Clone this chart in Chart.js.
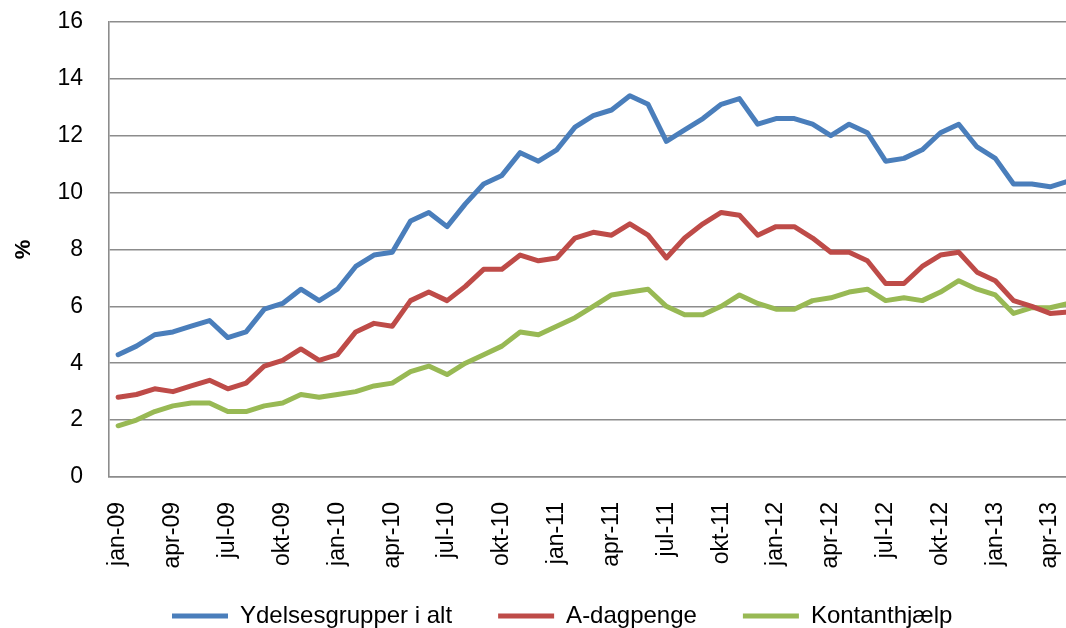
<!DOCTYPE html>
<html>
<head>
<meta charset="utf-8">
<script src="https://cdn.jsdelivr.net/npm/chart.js@4.4.1/dist/chart.umd.min.js"></script>
<style>
    html, body { margin: 0; padding: 0; overflow: hidden; background: #fff; }
    /* canvas is a bit bigger than the window: the original picture is cropped on the right */
    #wrap { position: absolute; left: 0; top: -18px; width: 1121px; height: 675px; }
</style>
</head>
<body>
<div id="wrap"><canvas id="chart" width="1121" height="675"></canvas></div>
<script>
const months = [
    "jan-09", "feb-09", "mar-09", "apr-09", "maj-09", "jun-09", "jul-09", "aug-09", "sep-09", "okt-09", "nov-09", "dec-09",
    "jan-10", "feb-10", "mar-10", "apr-10", "maj-10", "jun-10", "jul-10", "aug-10", "sep-10", "okt-10", "nov-10", "dec-10",
    "jan-11", "feb-11", "mar-11", "apr-11", "maj-11", "jun-11", "jul-11", "aug-11", "sep-11", "okt-11", "nov-11", "dec-11",
    "jan-12", "feb-12", "mar-12", "apr-12", "maj-12", "jun-12", "jul-12", "aug-12", "sep-12", "okt-12", "nov-12", "dec-12",
    "jan-13", "feb-13", "mar-13", "apr-13", "maj-13"
];

const ydelsesgrupper = [
    4.3, 4.6, 5.0, 5.1, 5.3, 5.5, 4.9, 5.1, 5.9, 6.1, 6.6, 6.2,
    6.6, 7.4, 7.8, 7.9, 9.0, 9.3, 8.8, 9.6, 10.3, 10.6, 11.4, 11.1,
    11.5, 12.3, 12.7, 12.9, 13.4, 13.1, 11.8, 12.2, 12.6, 13.1, 13.3, 12.4,
    12.6, 12.6, 12.4, 12.0, 12.4, 12.1, 11.1, 11.2, 11.5, 12.1, 12.4, 11.6,
    11.2, 10.3, 10.3, 10.2, 10.4
];
const aDagpenge = [
    2.8, 2.9, 3.1, 3.0, 3.2, 3.4, 3.1, 3.3, 3.9, 4.1, 4.5, 4.1,
    4.3, 5.1, 5.4, 5.3, 6.2, 6.5, 6.2, 6.7, 7.3, 7.3, 7.8, 7.6,
    7.7, 8.4, 8.6, 8.5, 8.9, 8.5, 7.7, 8.4, 8.9, 9.3, 9.2, 8.5,
    8.8, 8.8, 8.4, 7.9, 7.9, 7.6, 6.8, 6.8, 7.4, 7.8, 7.9, 7.2,
    6.9, 6.2, 6.0, 5.75, 5.8
];
const kontanthjaelp = [
    1.8, 2.0, 2.3, 2.5, 2.6, 2.6, 2.3, 2.3, 2.5, 2.6, 2.9, 2.8,
    2.9, 3.0, 3.2, 3.3, 3.7, 3.9, 3.6, 4.0, 4.3, 4.6, 5.1, 5.0,
    5.3, 5.6, 6.0, 6.4, 6.5, 6.6, 6.0, 5.7, 5.7, 6.0, 6.4, 6.1,
    5.9, 5.9, 6.2, 6.3, 6.5, 6.6, 6.2, 6.3, 6.2, 6.5, 6.9, 6.6,
    6.4, 5.75, 5.95, 5.95, 6.1
];

const yMin = 0;
const yMax = 16;
const yStep = 2;
const labelEvery = 3;

const gridGrey = "#8c8c8c";
const tickFont = { family: "'Liberation Sans', Arial, sans-serif", size: 23 };

function line(label, data, color) {
    return {
        label: label,
        data: data,
        borderColor: color,
        backgroundColor: color,
        borderWidth: 5,
        borderJoinStyle: "round",
        borderCapStyle: "round",
        pointRadius: 0,
        tension: 0,
        fill: false
    };
}

// put the legend row where it sits in the original
const legendPlace = {
    id: "legendPlace",
    afterLayout(chart) {
        const lg = chart.legend;
        const pad = lg.options.labels.padding;
        lg.left = 172 - pad;
        lg.right = 1121;
        lg.top = 634 - pad - 12;
        lg.bottom = lg.top + 80;
    }
};

new Chart(document.getElementById("chart"), {
    type: "line",
    data: {
        labels: months,
        datasets: [
            line("Ydelsesgrupper i alt", ydelsesgrupper, "#4a7ebb"),
            line("A-dagpenge", aDagpenge, "#be4b48"),
            line("Kontanthjælp", kontanthjaelp, "#98b954")
        ]
    },
    options: {
        responsive: false,
        animation: false,
        layout: { padding: 0 },
        plugins: {
            tooltip: { enabled: false },
            legend: {
                position: "bottom",
                align: "start",
                labels: {
                    usePointStyle: true,
                    pointStyle: "line",
                    pointStyleWidth: 56,
                    boxHeight: 5,
                    padding: 46,
                    color: "#000",
                    font: { family: "'Liberation Sans', Arial, sans-serif", size: 24 }
                }
            }
        },
        scales: {
            x: {
                offset: true,
                grid: { display: false, drawTicks: false },
                border: { color: gridGrey, width: 1.6 },
                ticks: {
                    autoSkip: false,
                    minRotation: 90,
                    maxRotation: 90,
                    padding: 25,
                    color: "#000",
                    font: tickFont,
                    callback: function(value, index) {
                        return index % labelEvery === 0 ? months[index] : "";
                    }
                },
                afterFit(scale) { scale.height = 100; }
            },
            y: {
                min: yMin,
                max: yMax,
                grid: { color: gridGrey, lineWidth: 1.6, drawTicks: false },
                border: { color: gridGrey, width: 1.6 },
                ticks: { stepSize: yStep, padding: 26, color: "#000", font: tickFont },
                title: {
                    display: true,
                    text: "%",
                    color: "#000",
                    padding: { top: 11, bottom: 0 },
                    font: { family: "'Liberation Sans', Arial, sans-serif", size: 22, weight: "bold" }
                },
                afterFit(scale) { scale.width = 109; }
            }
        }
    },
    plugins: [legendPlace]
});
</script>
</body>
</html>
